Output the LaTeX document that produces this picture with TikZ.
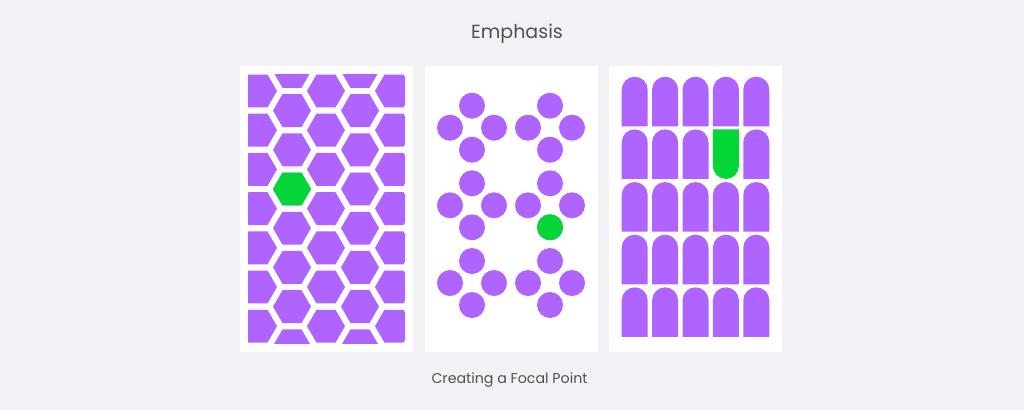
\documentclass[tikz,border=0pt]{standalone}
\usepackage{fontspec}
\setmainfont{Poppins}
\definecolor{pagebg}{HTML}{F2F1F6}
\definecolor{tile}{HTML}{B064FF}
\definecolor{focus}{HTML}{04D637}
\definecolor{labelgray}{HTML}{505050}
\tikzset{
  panel/.style={fill=white},
  heading/.style={text=labelgray, inner sep=0pt, font=\fontsize{19}{22}\selectfont},
  caption/.style={text=labelgray, inner sep=0pt, font=\fontsize{14.2}{17}\selectfont}
}
% flat-topped hexagon, circumradius 19
\newcommand{\hexat}[3]{\fill[#3] ({#1},{#2}) +(0:19) -- +(60:19) -- +(120:19) -- +(180:19) -- +(240:19) -- +(300:19) -- cycle;}
\begin{document}
\begin{tikzpicture}[x=1pt, y=-1pt]
    \fill[pagebg] (0,0) rectangle (1024,410);
    \useasboundingbox (0,0) rectangle (1024,410);
    \node[heading] (title) at (517,34) {Emphasis};
    \node[caption] (focal) at (509.5,380) {Creating a Focal Point};
    \fill[panel] (240,66) rectangle (413,352);
    \fill[panel] (425,66) rectangle (598,352);
    \fill[panel] (609,66) rectangle (782,352);
    % hexagons
    \begin{scope}
        \clip (248,74) rectangle (405,343);
        \foreach \col in {0,2,4} {\foreach \row in {0,...,6} {\hexat{258+34*\col}{91+39.2*\row}{tile}}}
        \foreach \col in {1,3} {\foreach \row in {0,...,7} {\hexat{258+34*\col}{71.4+39.2*\row}{tile}}}
        \hexat{292}{189}{focus}
    \end{scope}
    % circles
    \foreach \cx in {472,550} {\foreach \cy in {127.7,205.3,283} {
        \foreach \dx/\dy in {0/-22,-22/0,22/0,0/22} {
            \fill[tile] ({\cx+\dx},{\cy+\dy}) circle[radius=13];
        }}}
    \fill[focus] (550,227.3) circle[radius=13];
    % arches
    \foreach \k in {0,...,4} {\foreach \j in {0,...,4} {
        \ifnum\numexpr\k*10+\j\relax=31 \else
        \fill[tile] ({621.7+30.4*\k},{126.3+52.65*\j}) -- ++(0,-36.6)
            arc[start angle=180, end angle=360, radius=13] -- ++(0,36.6) -- cycle;
        \fi
    }}
    \fill[focus] (712.9,129.35) -- ++(26,0) -- ++(0,36.6)
        arc[start angle=0, end angle=180, radius=13] -- cycle;
\end{tikzpicture}
\end{document}
